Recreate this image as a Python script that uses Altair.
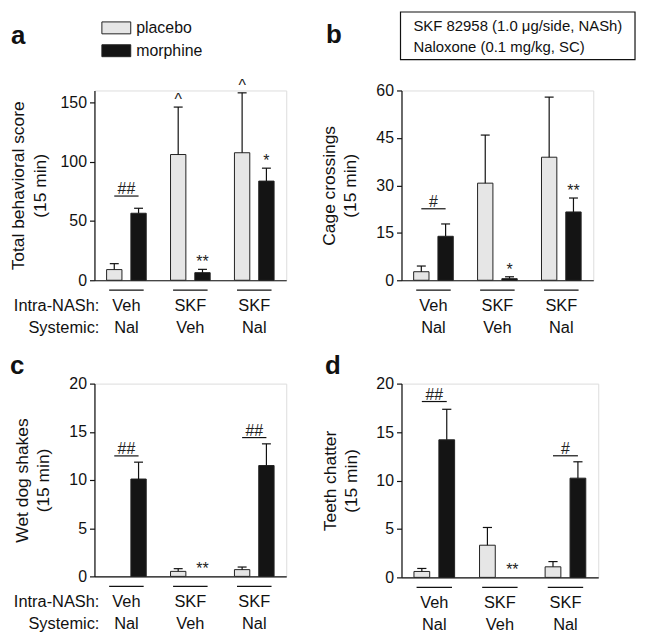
import altair as alt
import pandas as pd

FONT = "Liberation Sans"

intra_labels = ["Veh", "SKF", "SKF"]
systemic_labels = ["Nal", "Veh", "Nal"]
treatments = ["placebo", "morphine"]
bar_colors = ["#e6e6e6", "#141414"]

# ---- panel a: Total behavioral score
a_placebo = [9, 106, 107.5]
a_placebo_top = [14, 146, 158]
a_morphine = [56.5, 6.4, 83.6]
a_morphine_top = [60.7, 9.2, 94.5]
a_placebo_sig = ["", "^", "^"]
a_morphine_sig = ["", "**", "*"]
a_pair_sig = ["##", "", ""]
a_pair_y = [71, 0, 0]

# ---- panel b: Cage crossings
b_placebo = [2.7, 30.7, 38.9]
b_placebo_top = [4.5, 45.9, 57.9]
b_morphine = [13.9, 0.5, 21.6]
b_morphine_top = [17.8, 1.1, 26.0]
b_placebo_sig = ["", "", ""]
b_morphine_sig = ["", "*", "**"]
b_pair_sig = ["#", "", ""]
b_pair_y = [22.6, 0, 0]

# ---- panel c: Wet dog shakes
c_placebo = [0, 0.52, 0.7]
c_placebo_top = [0, 0.8, 0.97]
c_morphine = [10.1, 0, 11.5]
c_morphine_top = [11.85, 0, 13.75]
c_placebo_sig = ["", "", ""]
c_morphine_sig = ["", "**", ""]
c_pair_sig = ["##", "", "##"]
c_pair_y = [12.5, 0, 14.4]

# ---- panel d: Teeth chatter
d_placebo = [0.61, 3.32, 1.09]
d_placebo_top = [0.92, 5.15, 1.63]
d_morphine = [14.2, 0, 10.24]
d_morphine_top = [17.35, 0, 11.93]
d_placebo_sig = ["", "", ""]
d_morphine_sig = ["", "**", ""]
d_pair_sig = ["##", "", "#"]
d_pair_y = [18.15, 0, 12.55]

OFF = 0.19     # bar centre offset from group centre (x units)
HALF = 0.12    # half bar width
CAP = 0.07     # half cap width
UL = 0.27      # half underline width


def make_frames(pl, pl_top, mo, mo_top, pl_sig, mo_sig, pair_sig, pair_y):
    bars, pairs, groups = [], [], []
    for i in range(3):
        c = i + 0.5
        for t, v, top, sig, off in (("placebo", pl[i], pl_top[i], pl_sig[i], -OFF),
                                    ("morphine", mo[i], mo_top[i], mo_sig[i], OFF)):
            xc = c + off
            bars.append(dict(treatment=t, value=v, top=top, sig=sig, base=0,
                             x1=xc - HALF, x2=xc + HALF, xc=xc,
                             c1=xc - CAP, c2=xc + CAP))
        if pair_sig[i]:
            pairs.append(dict(x1=c - OFF, x2=c + OFF, xm=c, y=pair_y[i], sig=pair_sig[i]))
        groups.append(dict(xc=c, u1=c - UL, u2=c + UL,
                           intra=intra_labels[i], systemic=systemic_labels[i]))
    return pd.DataFrame(bars), pd.DataFrame(pairs), pd.DataFrame(groups)


def panel(frames, ymax, ticks, title, width, height, title_pad, letter, letter_xy,
          legend=False, row_labels=False, box=False):
    bars_df, pairs_df, groups_df = frames
    xs = alt.Scale(domain=[0, 3], nice=False, zero=False)
    ys = alt.Scale(domain=[0, ymax], nice=False, zero=True)
    xaxis = alt.Axis(labels=False, ticks=False, title=None, grid=False,
                     domainColor="#111", domainWidth=1.2)
    yaxis = alt.Axis(values=ticks, title=title, grid=False, domainColor="#111",
                     domainWidth=1.2, tickColor="#111", tickWidth=1.2, tickSize=5,
                     labelPadding=3, labelFontSize=16, labelColor="#111", labelFont=FONT,
                     titleFontSize=17.5, titleFont=FONT, titleFontWeight="normal",
                     titleColor="#111", titlePadding=title_pad, titleLineHeight=22)
    if legend:
        leg = alt.Legend(title=None, orient="none", legendX=14, legendY=-71,
                         symbolType="M-2.42,-1H2.42V1H-2.42Z", symbolSize=144,
                         symbolStrokeColor="#222", symbolStrokeWidth=1,
                         symbolOpacity=1, labelFontSize=16, labelFont=FONT,
                         labelColor="#111", labelOffset=12, rowPadding=7, padding=0)
    else:
        leg = None
    base = alt.Chart(bars_df)
    nonzero = base.transform_filter("datum.value > 0")
    bars = nonzero.mark_rect(stroke="#222", strokeWidth=1).encode(
        x=alt.X("x1:Q", scale=xs, axis=xaxis),
        x2="x2:Q",
        y=alt.Y("value:Q", scale=ys, axis=yaxis),
        y2="base:Q",
        color=alt.Color("treatment:N", scale=alt.Scale(domain=treatments, range=bar_colors),
                        legend=leg),
    )
    err = nonzero.mark_rule(color="#111", strokeWidth=1.2).encode(
        x="xc:Q", y="value:Q", y2="top:Q")
    caps = nonzero.mark_rule(color="#111", strokeWidth=1.2).encode(
        x="c1:Q", x2="c2:Q", y="top:Q")
    sig = base.mark_text(font=FONT, fontSize=16, color="#222", baseline="alphabetic",
                         align="center", dy=-2).encode(x="xc:Q", y="top:Q", text="sig:N")
    layers = [bars, err, caps, sig]
    if len(pairs_df):
        pb = alt.Chart(pairs_df)
        layers.append(pb.mark_rule(color="#111", strokeWidth=1.2).encode(
            x="x1:Q", x2="x2:Q", y="y:Q"))
        layers.append(pb.mark_text(font=FONT, fontSize=16, color="#222",
                                   baseline="alphabetic", dy=-2).encode(
            x="xm:Q", y="y:Q", text="sig:N"))
    gb = alt.Chart(groups_df)
    layers.append(gb.mark_rule(color="#111", strokeWidth=1.2).encode(
        x="u1:Q", x2="u2:Q", y=alt.value(height + 10)))
    layers.append(gb.mark_text(font=FONT, fontSize=16.5, color="#111",
                               baseline="alphabetic").encode(
        x="xc:Q", y=alt.value(height + 31), text="intra:N"))
    layers.append(gb.mark_text(font=FONT, fontSize=16.5, color="#111",
                               baseline="alphabetic").encode(
        x="xc:Q", y=alt.value(height + 53), text="systemic:N"))
    if row_labels:
        rl = alt.Chart(pd.DataFrame({"t": ["Intra-NASh:", "Systemic:"],
                                     "row": [0, 1]}))
        layers.append(rl.transform_filter("datum.row == 0").mark_text(
            font=FONT, fontSize=16.5, color="#111", align="right", baseline="alphabetic").encode(
            x=alt.value(5), y=alt.value(height + 31), text="t:N"))
        layers.append(rl.transform_filter("datum.row == 1").mark_text(
            font=FONT, fontSize=16.5, color="#111", align="right", baseline="alphabetic").encode(
            x=alt.value(5), y=alt.value(height + 53), text="t:N"))
    if box:
        bx = alt.Chart(pd.DataFrame({"l1": ["SKF 82958 (1.0 \u03bcg/side, NASh)"],
                                     "l2": ["Naloxone (0.1 mg/kg, SC)"]}))
        layers.append(bx.mark_rect(fill="white", stroke="#111", strokeWidth=1.2).encode(
            x=alt.value(-1), x2=alt.value(235), y=alt.value(-79), y2=alt.value(-31)))
        layers.append(bx.mark_text(font=FONT, fontSize=15, color="#111", align="left",
                                   baseline="alphabetic").encode(
            x=alt.value(12), y=alt.value(-60), text="l1:N"))
        layers.append(bx.mark_text(font=FONT, fontSize=15, color="#111", align="left",
                                   baseline="alphabetic").encode(
            x=alt.value(12), y=alt.value(-39), text="l2:N"))
    lt = alt.Chart(pd.DataFrame({"t": [letter]}))
    layers.append(lt.mark_text(font=FONT, fontSize=26, fontWeight="bold", color="#111",
                               align="left", baseline="alphabetic").encode(
        x=alt.value(letter_xy[0]), y=alt.value(letter_xy[1]), text="t:N"))
    return alt.layer(*layers).properties(width=width, height=height)


pa = panel(make_frames(a_placebo, a_placebo_top, a_morphine, a_morphine_top,
                       a_placebo_sig, a_morphine_sig, a_pair_sig, a_pair_y),
           160, [0, 50, 100, 150], ["Total behavioral score", "(15 min)"],
           193, 191, 11, "a", (-84, -47), legend=True, row_labels=True)
pb_ = panel(make_frames(b_placebo, b_placebo_top, b_morphine, b_morphine_top,
                        b_placebo_sig, b_morphine_sig, b_pair_sig, b_pair_y),
            60, [0, 15, 30, 45, 60], ["Cage crossings", "(15 min)"],
            193, 191, 16, "b", (-76, -48), box=True)
pc = panel(make_frames(c_placebo, c_placebo_top, c_morphine, c_morphine_top,
                       c_placebo_sig, c_morphine_sig, c_pair_sig, c_pair_y),
           20, [0, 5, 10, 15, 20], ["Wet dog shakes", "(15 min)"],
           193, 194, 16, "c", (-85, -10), row_labels=True)
pd_ = panel(make_frames(d_placebo, d_placebo_top, d_morphine, d_morphine_top,
                        d_placebo_sig, d_morphine_sig, d_pair_sig, d_pair_y),
            20, [0, 5, 10, 15, 20], ["Teeth chatter", "(15 min)"],
            198, 195, 15, "d", (-77, -10))

chart = alt.concat(pa, pb_, pc, pd_, columns=2, bounds="flush",
                   spacing={"row": 104, "column": 116}).resolve_scale(
    color="independent").resolve_legend(color="independent").properties(
    padding=0
).configure_view(stroke=None).configure(font=FONT)

chart.save("out.html", embed_options={"renderer": "svg", "actions": False})
